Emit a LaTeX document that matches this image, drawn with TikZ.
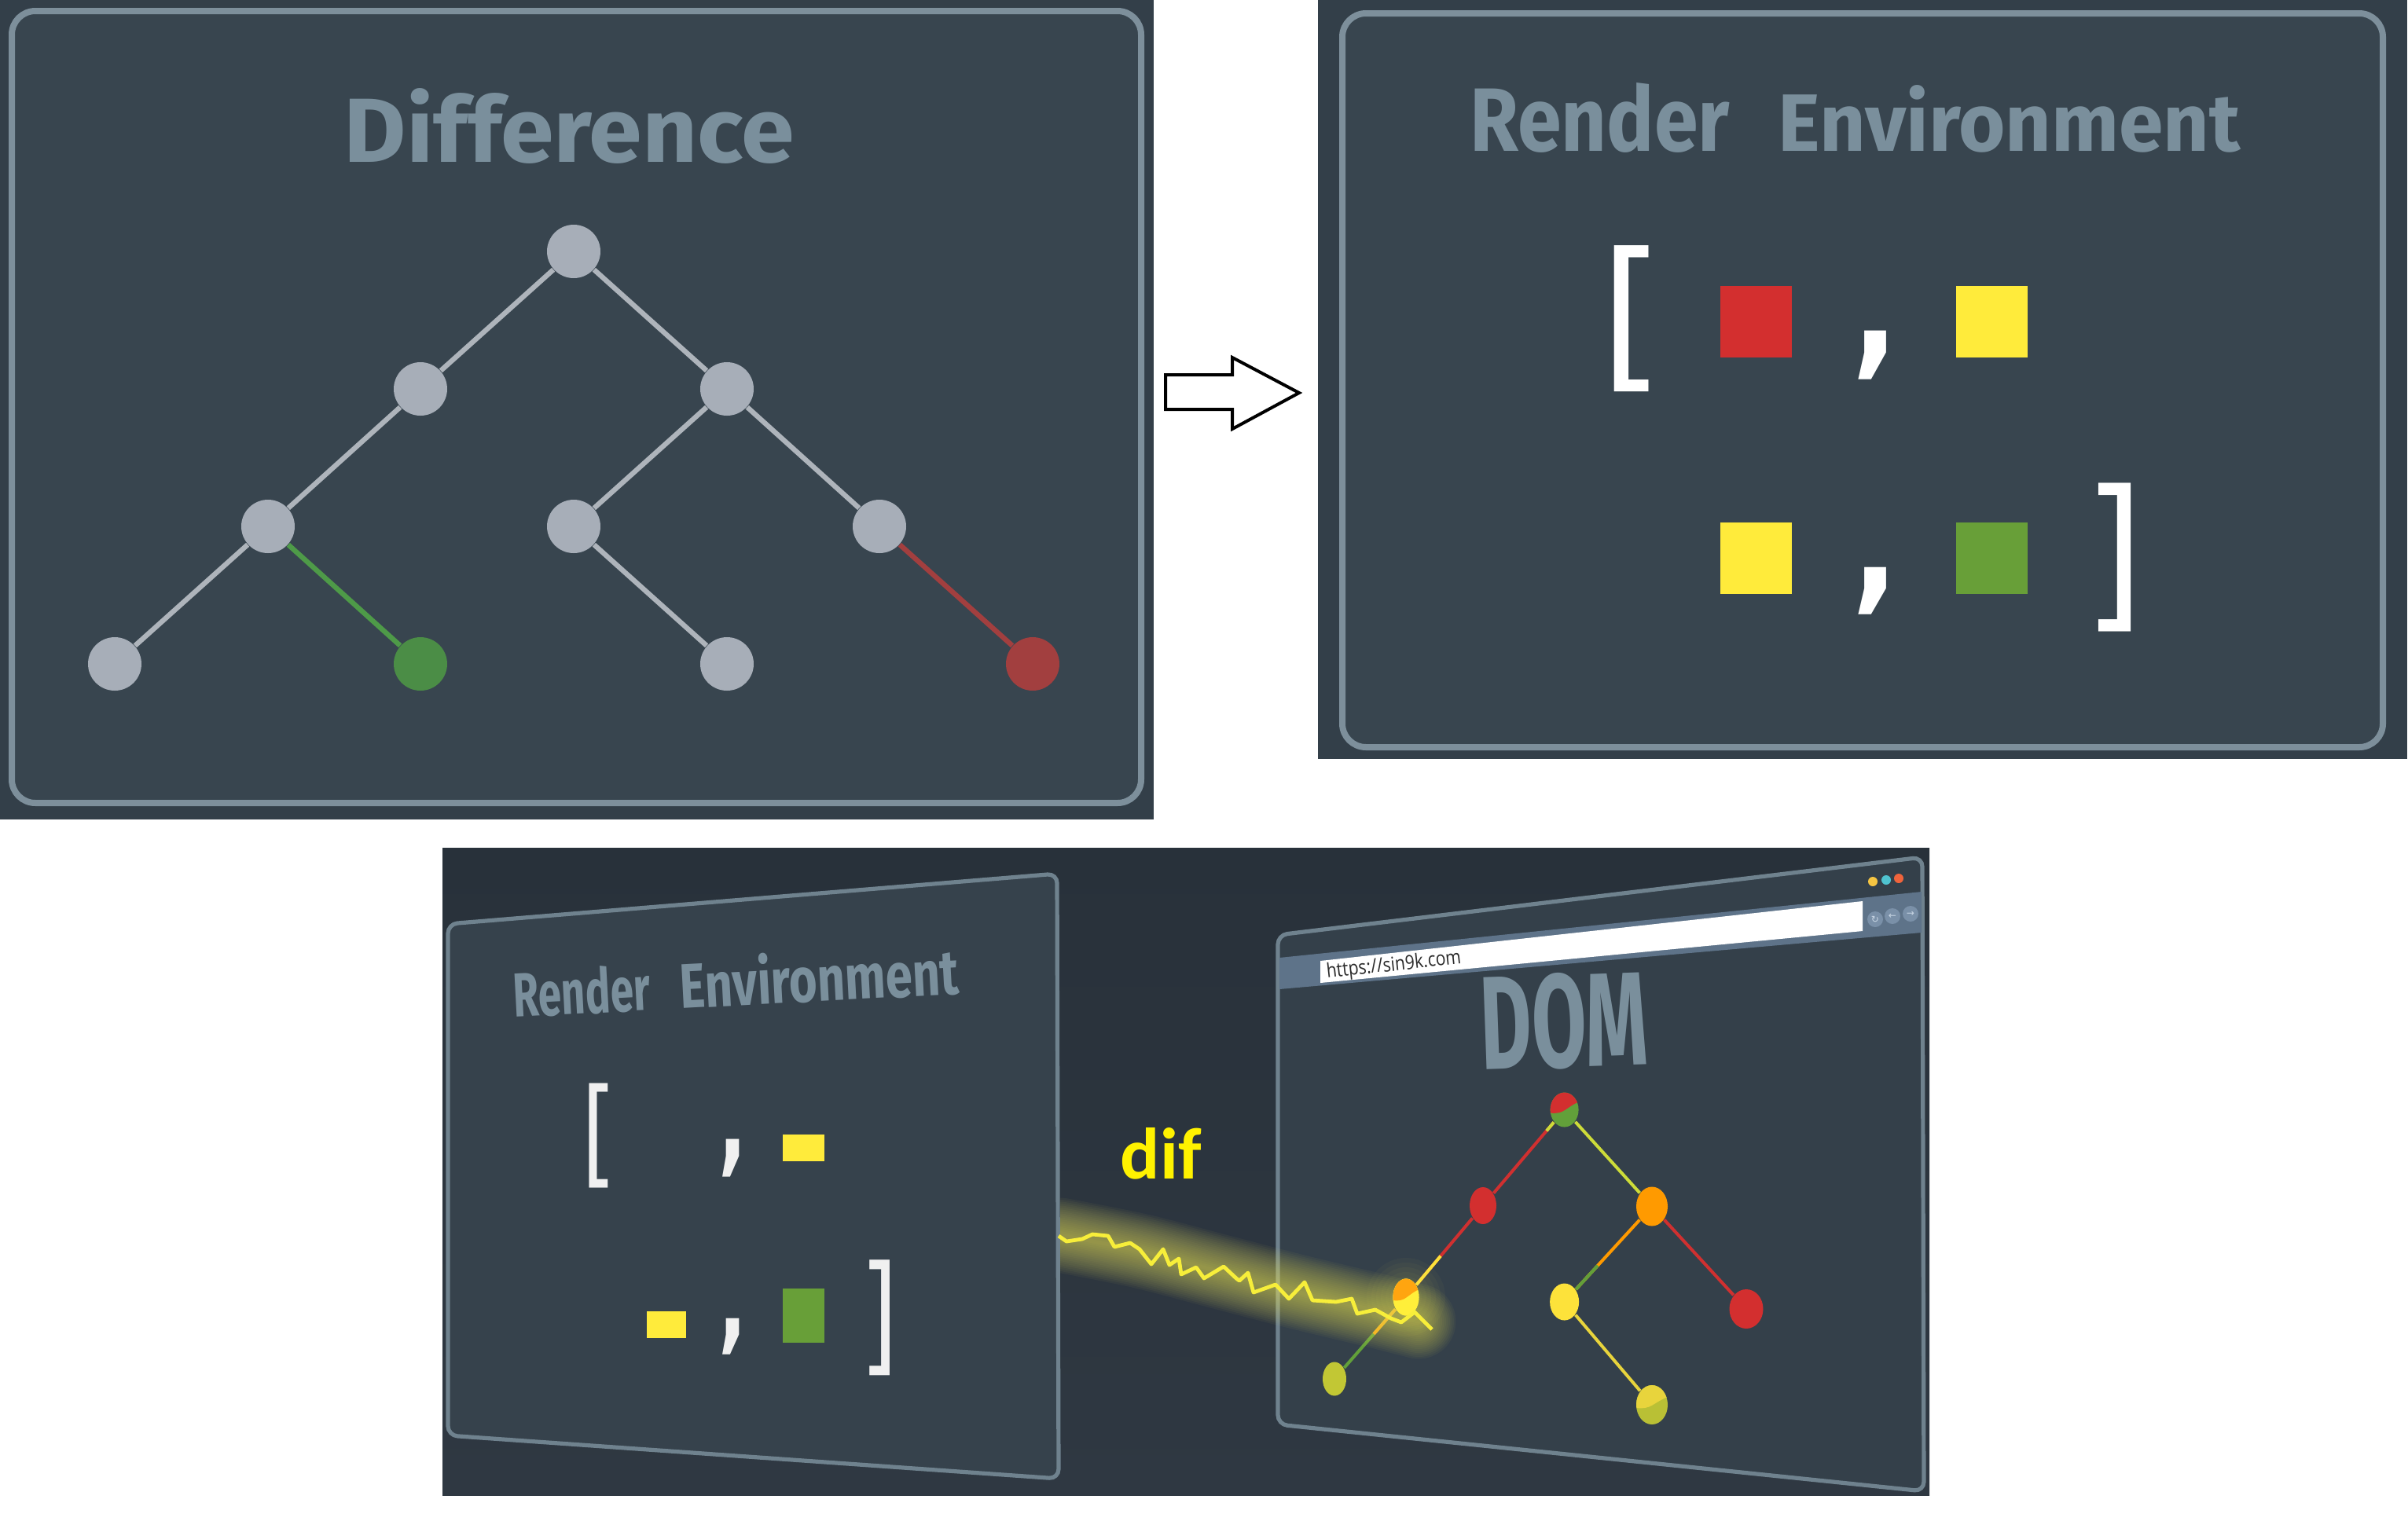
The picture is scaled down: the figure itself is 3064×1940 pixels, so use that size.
\documentclass[tikz,border=0pt]{standalone}
\usepackage{fontspec}
\setmainfont{Fira Sans}
\newfontfamily\ttlfont{Fira Sans}
\newfontfamily\urlfont{Open Sans}
\newfontfamily\diffont{Carlito}
\newfontfamily\symfont{DejaVu Sans}
\usetikzlibrary{shapes.geometric,calc}
\definecolor{pbg}{HTML}{333F49}
\definecolor{pin}{HTML}{38454F}
\definecolor{frame}{HTML}{7D8F9B}
\definecolor{ttl}{HTML}{7A8F9C}
\definecolor{gnode}{HTML}{A7AEB8}
\definecolor{gedge}{HTML}{AEB4BB}
\definecolor{dgreen}{HTML}{4B8D46}
\definecolor{dgreenl}{HTML}{4E9A48}
\definecolor{dred}{HTML}{A23F3F}
\definecolor{sqred}{HTML}{D32F2F}
\definecolor{sqyel}{HTML}{FFEB3B}
\definecolor{sqgrn}{HTML}{689F38}
\definecolor{bbgtop}{HTML}{28313A}
\definecolor{bbgbot}{HTML}{2F3842}
\definecolor{board}{HTML}{36424C}
\definecolor{bframe}{HTML}{6F828E}
\definecolor{band}{HTML}{5E7389}
\definecolor{urltext}{HTML}{2B2B2B}
\definecolor{dotY}{HTML}{F5C542}
\definecolor{dotC}{HTML}{4FC3D0}
\definecolor{dotO}{HTML}{F0643C}
\definecolor{navc}{HTML}{7A90A8}
\definecolor{navs}{HTML}{C8D6E4}
\definecolor{dred2}{HTML}{D03030}
\definecolor{dgrn2}{HTML}{62A03A}
\definecolor{dorg}{HTML}{FF9A00}
\definecolor{dorgl}{HTML}{FFA510}
\definecolor{dyel}{HTML}{FDE23A}
\definecolor{dyell}{HTML}{FFEF3A}
\definecolor{dyg}{HTML}{CDDC39}
\definecolor{dolive}{HTML}{C2C734}
\definecolor{dolive2}{HTML}{B9C035}
\definecolor{dyel2}{HTML}{E8D43C}
\definecolor{lightc}{HTML}{F7EE3A}
\definecolor{glowc}{HTML}{EFE960}
\definecolor{difc}{HTML}{FFF200}
\tikzset{
  tnode/.style={circle,inner sep=0pt,minimum size=17pt,fill=gnode},
  tedge/.style={line width=1.6pt,draw=gedge},
  dnode/.style={ellipse,inner sep=0pt},
  dedge/.style={line width=1pt},
  sqbox/.style={rectangle,inner sep=0pt},
  glyph/.style={inner sep=0pt,anchor=center,text=white},
  ttlnode/.style={inner sep=0pt,anchor=base west,text=ttl},
  split/.style 2 args={fill=#2, path picture={\fill[#1] (path picture bounding box.north west) -- ([yshift=-1pt]path picture bounding box.west) .. controls ([yshift=-1.5pt]path picture bounding box.center) and ([yshift=0.5pt]path picture bounding box.center) .. ([yshift=2.5pt]path picture bounding box.east) -- (path picture bounding box.north east) -- cycle;}},
  panelframe/.style={draw=frame,line width=2pt,rounded corners=7.5pt,fill=pin},
  boardshape/.style={draw=bframe,line width=1.3pt,rounded corners=3pt,fill=board}
}
\begin{document}
\begin{tikzpicture}[x=0.25pt,y=-0.25pt]
\useasboundingbox (0,0) rectangle (3064,1940);
\fill[white] (0,0) rectangle (3064,1940);
% ---------------- top-left panel ----------------
\fill[pbg] (0,0) rectangle (1468,1043);
\draw[panelframe] (15,14) rectangle (1452,1022);
\node[ttlnode] (tdiff) at (437,206) {\resizebox{143.25pt}{23.5pt}{\ttlfont\bfseries Difference}};
\node[tnode] (n1) at (730,320) {};
\node[tnode] (n2) at (535,495) {};
\node[tnode] (n3) at (925,495) {};
\node[tnode] (n4) at (341,670) {};
\node[tnode] (n5) at (730,670) {};
\node[tnode] (n6) at (1119,670) {};
\node[tnode] (n7) at (146,845) {};
\node[tnode,fill=dgreen] (n8) at (535,845) {};
\node[tnode] (n9) at (925,845) {};
\node[tnode,fill=dred] (n10) at (1314,845) {};
\draw[tedge] (n1) -- (n2);
\draw[tedge] (n1) -- (n3);
\draw[tedge] (n2) -- (n4);
\draw[tedge] (n3) -- (n5);
\draw[tedge] (n3) -- (n6);
\draw[tedge] (n4) -- (n7);
\draw[tedge,draw=dgreenl] (n4) -- (n8);
\draw[tedge] (n5) -- (n9);
\draw[tedge,draw=dred] (n6) -- (n10);
% ---------------- arrow ----------------
\draw[black,line width=1pt,fill=white,line join=miter] (1483,477) -- (1568,477) -- (1568,455) -- (1653,500) -- (1568,546) -- (1568,521) -- (1483,521) -- cycle;
% ---------------- top-right panel ----------------
\fill[pbg] (1677,0) rectangle (3063,966);
\draw[panelframe] (1708,17) rectangle (3032,951);
\node[ttlnode] (tren) at (1870,192) {\resizebox{82.5pt}{21.75pt}{\ttlfont\bfseries Render}};
\node[ttlnode] (tenv) at (2262,192) {\resizebox{147pt}{21pt}{\ttlfont\bfseries Environment}};
\node[glyph] (lbr1) at (2074.5,406) {\resizebox*{17pt}{46.5pt}{\ttlfont [}};
\node[sqbox,minimum size=22.75pt,fill=sqred] (s1) at (2234.5,409.5) {};
\node[glyph] (cm1) at (2386.5,452) {\resizebox*{15pt}{15.5pt}{\symfont\bfseries ,}};
\node[sqbox,minimum size=22.75pt,fill=sqyel] (s2) at (2534.5,409.5) {};
\node[sqbox,minimum size=22.75pt,fill=sqyel] (s3) at (2234.5,710) {};
\node[glyph] (cm2) at (2386.5,752) {\resizebox*{15pt}{15pt}{\symfont\bfseries ,}};
\node[sqbox,minimum size=22.75pt,fill=sqgrn] (s4) at (2534.5,710) {};
\node[glyph] (rbr1) at (2692,709.5) {\resizebox*{16pt}{47.25pt}{\ttlfont ]}};
% ---------------- bottom panel ----------------
\shade[top color=bbgtop,bottom color=bbgbot] (563,1079) rectangle (2455,1903);
% left board
\draw[boardshape] (570,1176) -- (1345,1112) -- (1347,1882) -- (570,1827) -- cycle;
\node[ttlnode,rotate=3] (bren) at (654,1295) {\resizebox{43.5pt}{15pt}{\ttlfont\bfseries Render}};
\node[ttlnode,rotate=3] (benv) at (866,1284) {\resizebox{88.75pt}{16.25pt}{\ttlfont\bfseries Environment}};
\node[glyph,text=white!94!black] (lbr2) at (761,1445.5) {\resizebox*{9.25pt}{33.25pt}{\ttlfont [}};
\node[glyph,text=white!94!black] (cm3) at (932.5,1474) {\resizebox*{9pt}{12pt}{\symfont\bfseries ,}};
\node[sqbox,minimum width=13.25pt,minimum height=8.5pt,fill=sqyel] (b1) at (1022.5,1461) {};
\node[sqbox,minimum width=12.5pt,minimum height=8.5pt,fill=sqyel] (b2) at (848,1686) {};
\node[glyph,text=white!94!black] (cm4) at (932.5,1701) {\resizebox*{9pt}{11.5pt}{\symfont\bfseries ,}};
\node[sqbox,minimum width=13.25pt,minimum height=17.25pt,fill=sqgrn] (b3) at (1022.5,1674.5) {};
\node[glyph,text=white!94!black] (rbr2) at (1120,1677.5) {\resizebox*{10pt}{36.75pt}{\ttlfont ]}};
% browser board
\draw[boardshape,fill=board!97!black] (1626,1190) -- (2446,1091) -- (2448,1898) -- (1626,1813) -- cycle;
\fill[band] (1628,1219) -- (2445,1135) -- (2445,1187) -- (1628,1259) -- cycle;
\fill[white] (1680,1223) -- (2370,1147) -- (2370,1185) -- (1680,1251) -- cycle;
\node[inner sep=0pt,anchor=base west,rotate=6.2,text=urltext] (url) at (1688,1245) {\resizebox{43pt}{4.75pt}{\urlfont https://sin9k.com}};
\node[circle,fill=dotY,inner sep=0pt,minimum size=3pt] (d1) at (2383,1122) {};
\node[circle,fill=dotC,inner sep=0pt,minimum size=3pt] (d2) at (2400,1120) {};
\node[circle,fill=dotO,inner sep=0pt,minimum size=3pt] (d3) at (2416,1118) {};
\node[circle,fill=navc,inner sep=0pt,minimum size=5pt,text=navs,font=\symfont\fontsize{3pt}{3pt}\selectfont] (nb1) at (2386,1170) {↻};
\node[circle,fill=navc,inner sep=0pt,minimum size=5pt,text=navs,font=\symfont\fontsize{3pt}{3pt}\selectfont] (nb2) at (2408,1166) {←};
\node[circle,fill=navc,inner sep=0pt,minimum size=5pt,text=navs,font=\symfont\fontsize{3pt}{3pt}\selectfont] (nb3) at (2431,1163) {→};
\node[ttlnode,rotate=2] (tdom) at (1885,1362) {\resizebox{53.25pt}{30pt}{\ttlfont\bfseries DOM}};
% DOM tree nodes
\node[dnode,split={sqred}{dgrn2},minimum width=9pt,minimum height=11pt] (r) at (1990.6,1412.5) {};
\node[dnode,fill=sqred,minimum width=8.5pt,minimum height=11.75pt] (a) at (1887,1534.5) {};
\node[dnode,fill=dorg,minimum width=10pt,minimum height=12.5pt] (b) at (2102,1535.5) {};
\node[dnode,split={dorgl}{dyell},minimum width=8.25pt,minimum height=11.75pt] (c) at (1789,1651) {};
\node[dnode,fill=dyel,minimum width=9.25pt,minimum height=11.75pt] (d) at (1990.6,1657) {};
\node[dnode,fill=sqred,minimum width=10.75pt,minimum height=12.5pt] (e) at (2222,1666) {};
\node[dnode,fill=dolive,minimum width=7.5pt,minimum height=10.75pt] (f) at (1698,1755) {};
\node[dnode,split={dyel2}{dolive2},minimum width=10pt,minimum height=12.5pt] (g) at (2102,1788) {};
% DOM tree edges
\draw[dedge,dred2] (r) -- (a);
\draw[dedge,dyg] (r) -- ($(r)!0.22!(a)$);
\draw[dedge,dyg] (r) -- (b);
\draw[dedge,dred2] (a) -- (c);
\draw[dedge,dyel] ($(a)!0.55!(c)$) -- (c);
\draw[dedge,dorg] (b) -- (d);
\draw[dedge,dgrn2] ($(b)!0.62!(d)$) -- (d);
\draw[dedge,dred2] (b) -- (e);
\draw[dedge,dgrn2] (c) -- (f);
\draw[dedge,dorgl] (c) -- ($(c)!0.45!(f)$);
\draw[dedge,dyel2] (d) -- (g);
% lightning glow
\begin{scope}
\clip (1349,1400) rectangle (2000,1900);
\foreach \w in {5,10,...,95}{
  \draw[glowc,line width=\w*0.25pt,opacity=0.045,line cap=round] plot[smooth] coordinates {(1349,1572) (1450,1592) (1550,1618) (1650,1644) (1750,1668) (1805,1682)};
}
\end{scope}
\foreach \rr in {8,14,...,50}{
  \fill[glowc,opacity=0.035] (c.center) circle (\rr);
}
\node[dnode,split={dorgl}{dyell},minimum width=8.25pt,minimum height=11.75pt] (c2) at (c) {};
% lightning
\draw[lightc,line width=1.2pt,line join=round] (1347,1573) -- (1357,1580) -- (1377,1577) -- (1390,1571) -- (1410,1573) -- (1418,1587) -- (1438,1582) -- (1450,1590) -- (1465,1609) -- (1480,1590) -- (1488,1610) -- (1500,1602) -- (1503,1622) -- (1522,1613) -- (1532,1627) -- (1557,1612) -- (1573,1627) -- (1577,1630) -- (1588,1620) -- (1595,1645) -- (1623,1635) -- (1640,1653) -- (1660,1632) -- (1670,1655) -- (1700,1657) -- (1720,1653) -- (1727,1672) -- (1750,1667) -- (1770,1678) -- (1783,1683) -- (1800,1670) -- (1822,1692);
\node[inner sep=0pt,anchor=base west,text=difc] (dif) at (1425,1500) {\resizebox{25.75pt}{16.25pt}{\diffont\bfseries dif}};
\end{tikzpicture}
\end{document}
